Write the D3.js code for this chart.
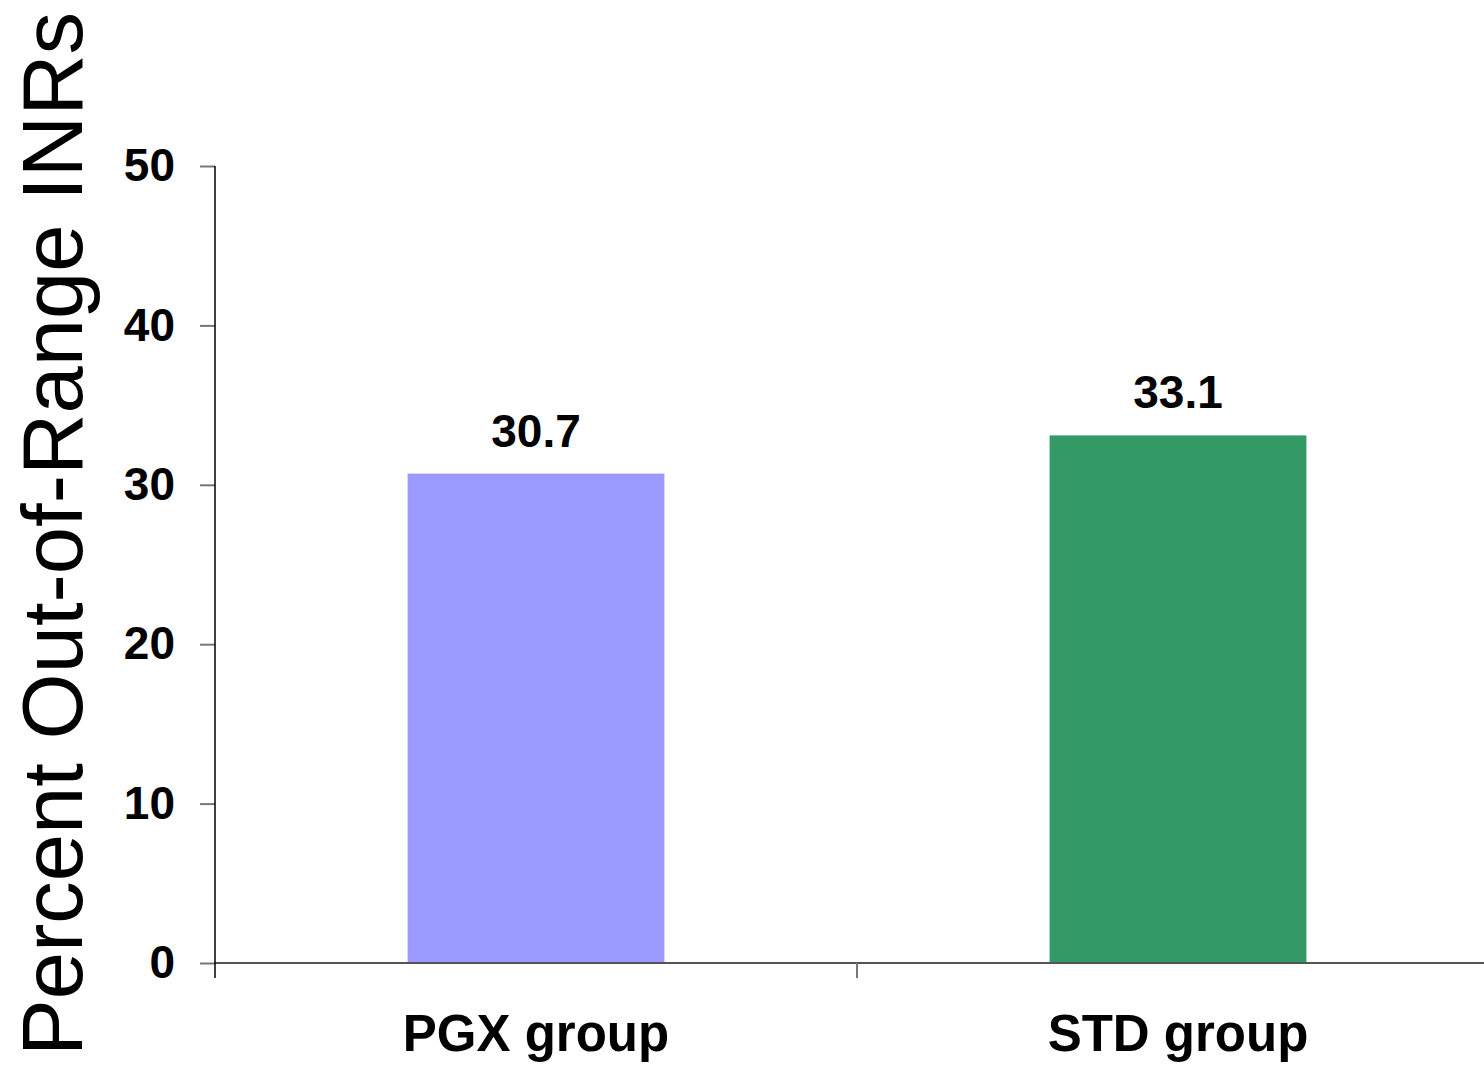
<!DOCTYPE html>
<html>
<head>
<meta charset="utf-8">
<script src="https://cdn.jsdelivr.net/npm/d3@7"></script>
<style>
  html, body { margin: 0; padding: 0; background: #fff; }
  svg { display: block; }
  text { font-family: "Liberation Sans", Arial, sans-serif; }
</style>
</head>
<body>
<svg id="chart" width="1484" height="1065"></svg>
<script>
// Percent of out-of-range INR values by dosing group
const categories = ["PGX group", "STD group"];
const values = [30.7, 33.1];
const colors = ["#9999FF", "#339966"];
const yTicks = [0, 10, 20, 30, 40, 50];
const yTitle = "Percent Out-of-Range INRs";

const svg = d3.select("#chart");

const x = d3.scaleBand()
  .domain(categories)
  .range([215, 1499])
  .paddingInner(0.6)
  .paddingOuter(0.3);

const y = d3.scaleLinear()
  .domain([0, 50])
  .range([963, 166]);

// bars
svg.append("g")
  .selectAll("rect")
  .data(values)
  .join("rect")
  .attr("x", (d, i) => x(categories[i]))
  .attr("width", x.bandwidth())
  .attr("y", d => y(d))
  .attr("height", d => y(0) - y(d))
  .attr("fill", (d, i) => colors[i]);

// value labels
svg.append("g")
  .selectAll("text")
  .data(values)
  .join("text")
  .attr("x", (d, i) => x(categories[i]) + x.bandwidth() / 2)
  .attr("y", d => y(d) - 27)
  .attr("text-anchor", "middle")
  .attr("font-size", 46)
  .attr("font-weight", "bold")
  .attr("fill", "#000")
  .text(d => d.toFixed(1));

// x axis: baseline with ticks at category boundaries
const xAxis = svg.append("g");
xAxis.append("line")
  .attr("x1", 215).attr("x2", 1499)
  .attr("y1", y(0)).attr("y2", y(0))
  .attr("stroke", "#555").attr("stroke-width", 2);
const bounds = [215, 215 + x.step(), 215 + 2 * x.step()];
xAxis.selectAll("line.tick")
  .data(bounds.slice(1))
  .join("line")
  .attr("class", "tick")
  .attr("x1", d => d).attr("x2", d => d)
  .attr("y1", y(0)).attr("y2", y(0) + 15)
  .attr("stroke", "#777").attr("stroke-width", 2);
xAxis.selectAll("text")
  .data(categories)
  .join("text")
  .attr("x", d => x(d) + x.bandwidth() / 2)
  .attr("y", 1051)
  .attr("text-anchor", "middle")
  .attr("font-size", 51)
  .attr("font-weight", "bold")
  .attr("fill", "#000")
  .text(d => d);

// y axis
const yAxis = svg.append("g")
  .attr("transform", "translate(215,0)")
  .call(d3.axisLeft(y).tickValues(yTicks).tickSize(15).tickPadding(25).tickFormat(d3.format("d")));
yAxis.select(".domain").remove();
yAxis.selectAll(".tick line").attr("stroke", "#777").attr("stroke-width", 2);
yAxis.selectAll(".tick text")
  .attr("font-size", 46)
  .attr("font-weight", "bold")
  .attr("fill", "#000")
  .attr("font-family", "'Liberation Sans', Arial, sans-serif");
yAxis.append("line")
  .attr("x1", 0).attr("x2", 0)
  .attr("y1", y(50)).attr("y2", y(0) + 15)
  .attr("stroke", "#000").attr("stroke-width", 1.5);

// y axis title
svg.append("text")
  .attr("transform", "translate(82,534) rotate(-90)")
  .attr("text-anchor", "middle")
  .attr("font-size", 85)
  .attr("fill", "#000")
  .text(yTitle);
</script>
</body>
</html>
